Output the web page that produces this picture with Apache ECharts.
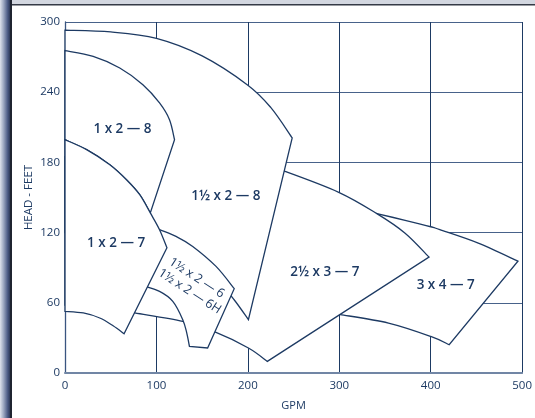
<!DOCTYPE html>
<html><head><meta charset="utf-8">
<script src="https://cdn.jsdelivr.net/npm/echarts@6/dist/echarts.min.js"></script>
<style>html,body{margin:0;padding:0;background:#fff}#c{width:535px;height:418px}</style>
</head><body><div id="c"></div>
<script>
// ---- axes ----
const gpmTicks = [0, 100, 200, 300, 400, 500];
const headTicks = [0, 60, 120, 180, 240, 300];

// ---- pump coverage regions (GPM, HEAD ft); each region = list of edges, edges with >2 points are curves ----
const pump3x4x7 = [
  [[320,140],[341.1,136.2],[372,130.5],[400,125],[410,122.5],[452,111],[495.4,95.6]],
  [[495.4,95.6],[420.2,24.2]],
  [[420.2,24.2],[400,31.3],[353.8,42.7],[301.2,49.9],[290,51]],
  [[290,51],[320,140]]
];
const pump2_5x3x7 = [
  [[0,185],[150,182],[220,177],[240.6,172.3],[299.4,154.4],[341.1,136.2],[372,119.5],[398.1,99.1]],
  [[398.1,99.1],[221.3,9.9]],
  [[221.3,9.9],[200.6,21.4],[163.3,35.3],[128.8,44.1],[76.2,51.3],[40,56],[0,58]],
  [[0,58],[0,185]]
];
const pump1_5x2x8 = [
  [[0,293],[50,291.5],[100,286],[150,271],[200,246],[225,227],[248.5,201]],
  [[248.5,201],[200.6,45.6]],
  [[200.6,45.6],[185,62.6],[170,76],[150,88],[130,100],[100,110],[60,118],[0,120]],
  [[0,120],[0,293]]
];
const pump1_5x2x6 = [
  [[96,125],[103.4,122.5],[122,116.5],[139.7,108.2],[165.2,91.1],[185.1,72.1]],
  [[185.1,72.1],[156,21.4]],
  [[156,21.4],[136.1,22.7]],
  [[136.1,22.7],[133.2,34.1],[128.8,45.6],[117.9,61.2],[103.4,69.7],[84,75]],
  [[84,75],[96,125]]
];
const pump1x2x8 = [
  [[0,275.5],[30.8,270.6],[59.9,260.7],[85.2,246.4],[103.4,230.8],[114.3,216.5],[119.8,199.4]],
  [[119.8,199.4],[93.3,136.8]],
  [[93.3,136.8],[81.7,152.4],[67.2,165.2],[49,178],[23.6,190.9],[0,199.4]],
  [[0,199.4],[0,275.5]]
];
const pump1x2x7 = [
  [[0,199.4],[23.6,190.9],[49,178],[67.2,165.2],[81.7,152.4],[93.3,136.8],[103.4,122.5],[111.5,107]],
  [[111.5,107],[64.6,33.6]],
  [[64.6,33.6],[52.6,40.4],[38,47],[20,51.3],[0,52.7]],
  [[0,52.7],[0,199.4]]
];

// ---- region labels ----
const labelNames = ['1 x 2 — 8', '1½ x 2 — 8', '1 x 2 — 7', '2½ x 3 — 7', '3 x 4 — 7', '1½ x 2 — 6', '1½ x 2 — 6H'];
const labelGpm   = [62.9, 176, 55.9, 284.2, 416.4, 144, 136.4];
const labelHead  = [208.4, 151.5, 111.1, 86.2, 74.8, 81.2, 69.7];
const labelSmall = [false, false, false, false, false, true, true];

const NAVY = '#1d3a63';
const FONT = '"Open Sans", "Noto Sans", sans-serif';

function pathFrom(segs, api) {
  let d = '';
  segs.forEach((seg, si) => {
    const pts = seg.map(p => api.coord(p));
    if (si === 0) d += 'M' + pts[0][0] + ' ' + pts[0][1];
    if (pts.length === 2) {
      d += ' L' + pts[1][0] + ' ' + pts[1][1];
    } else {
      for (let i = 0; i < pts.length - 1; i++) {
        const p0 = pts[Math.max(i - 1, 0)], p1 = pts[i], p2 = pts[i + 1], p3 = pts[Math.min(i + 2, pts.length - 1)];
        const c1 = [p1[0] + (p2[0] - p0[0]) / 6, p1[1] + (p2[1] - p0[1]) / 6];
        const c2 = [p2[0] - (p3[0] - p1[0]) / 6, p2[1] - (p3[1] - p1[1]) / 6];
        d += ' C' + c1[0] + ' ' + c1[1] + ' ' + c2[0] + ' ' + c2[1] + ' ' + p2[0] + ' ' + p2[1];
      }
    }
  });
  return d + ' Z';
}

const regions = [pump3x4x7, pump2_5x3x7, pump1_5x2x8, pump1_5x2x6, pump1x2x8, pump1x2x7];
const regionSeries = regions.map((segs, i) => ({
  type: 'custom', coordinateSystem: 'cartesian2d', silent: true, clip: false, z: 3 + i,
  data: [segs[0][0]],
  renderItem: (params, api) => ({
    type: 'path', shape: { pathData: pathFrom(segs, api) },
    style: { fill: '#ffffff', stroke: NAVY, lineWidth: 1.3, lineJoin: 'miter' }
  })
}));

const labelSeries = {
  type: 'custom', coordinateSystem: 'cartesian2d', silent: true, clip: false, z: 20,
  data: labelNames.map((n, i) => [labelGpm[i], labelHead[i]]),
  renderItem: (params, api) => {
    const i = params.dataIndex;
    const p = api.coord([labelGpm[i], labelHead[i]]);
    const small = labelSmall[i];
    return {
      type: 'text', x: p[0], y: p[1], rotation: small ? -33 * Math.PI / 180 : 0,
      style: { text: labelNames[i], fill: NAVY, fontFamily: FONT, fontWeight: small ? 500 : 600,
               fontSize: small ? 12.5 : 13.5, align: 'center', verticalAlign: 'middle' }
    };
  }
};

const chart = echarts.init(document.getElementById('c'), null, { renderer: 'canvas' });
chart.setOption({
  animation: false,
  backgroundColor: '#ffffff',
  grid: { left: 65, right: 11, top: 22, bottom: 45, containLabel: false },
  xAxis: {
    type: 'value', min: gpmTicks[0], max: gpmTicks[gpmTicks.length - 1], interval: 100,
    name: 'GPM', nameLocation: 'middle', nameGap: 27, nameMoveOverlap: false,
    nameTextStyle: { color: NAVY, fontSize: 11, fontFamily: FONT },
    axisLine: { show: true, lineStyle: { color: '#7186a5', width: 2 } },
    axisTick: { show: false },
    axisLabel: { color: NAVY, fontSize: 11.5, fontFamily: FONT, margin: 7 },
    splitLine: { show: true, lineStyle: { color: NAVY, width: 1 } }
  },
  yAxis: {
    type: 'value', min: headTicks[0], max: headTicks[headTicks.length - 1], interval: 60,
    name: 'HEAD - FEET', nameLocation: 'middle', nameGap: 30, nameMoveOverlap: false,
    nameTextStyle: { color: NAVY, fontSize: 11.5, fontFamily: FONT },
    axisLine: { show: true, lineStyle: { color: '#3a5580', width: 1.3 } },
    axisTick: { show: false },
    axisLabel: { color: NAVY, fontSize: 11.5, fontFamily: FONT, margin: 5 },
    splitLine: { show: true, lineStyle: { color: '#48628a', width: 1 } }
  },
  graphic: [
    { type: 'rect', left: 0, top: 0, z: 100, shape: { width: 10, height: 418 },
      style: { fill: new echarts.graphic.LinearGradient(0, 0, 1, 0, [
        { offset: 0, color: '#dfe3ec' }, { offset: 0.35, color: '#9ea9c2' },
        { offset: 0.75, color: '#4f5e87' }, { offset: 1, color: '#2c3858' }]) } },
    { type: 'rect', left: 10, top: 0, z: 100, shape: { width: 2, height: 418 }, style: { fill: '#1f2430' } },
    { type: 'rect', left: 12, top: 0, z: 100, shape: { width: 523, height: 4 }, style: { fill: '#d3d7e0' } },
    { type: 'rect', left: 12, top: 4, z: 100, shape: { width: 523, height: 1.5 }, style: { fill: '#353a46' } }
  ],
  series: regionSeries.concat([labelSeries])
});
</script>
</body></html>
